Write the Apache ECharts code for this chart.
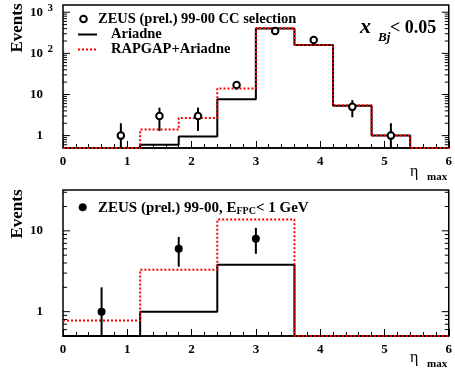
<!DOCTYPE html>
<html>
<head>
<meta charset="utf-8">
<script src="https://cdn.jsdelivr.net/npm/echarts@6/dist/echarts.min.js"></script>
<style>
  html, body { margin: 0; padding: 0; background: #fff; }
  #chart { width: 455px; height: 375px; }
</style>
</head>
<body>
<div id="chart"></div>
<script>
// eta_max distributions, x_Bj < 0.05 (upper) and with E_FPC < 1 GeV (lower)
const topEdges = [0, 0.6, 1.2, 1.8, 2.4, 3.0, 3.6, 4.2, 4.8, 5.4, 6.0];
const topAriadne = [0, 0, 0.6, 0.95, 7.7, 400, 160, 5.3, 1.0, 0];
const topRapgap = [0, 0, 1.4, 2.7, 14, 410, 160, 5.5, 1.0, 0];
const topDataX = [0.9, 1.5, 2.1, 2.7, 3.3, 3.9, 4.5, 5.1];
const topDataY = [1, 3, 3, 17, 350, 210, 5, 1];
const topErrLow = [0, 1.3, 1.3, 13, 330, 195, 2.8, 0];
const topErrHigh = [2, 4.8, 4.8, 21, 370, 225, 7.3, 2];

const botEdges = [0, 1.2, 2.4, 3.6, 4.8, 6.0];
const botAriadne = [0, 1.0, 3.8, 0, 0];
const botRapgap = [0.78, 3.3, 13.8, 0, 0];
const botDataX = [0.6, 1.8, 3.0];
const botDataY = [1, 6, 8];
const botErrLow = [0, 3.6, 5.2];
const botErrHigh = [2, 8.4, 10.9];

const xTicks = [0, 1, 2, 3, 4, 5, 6];
const topRange = [0.5, 1500];
const botRange = [0.5, 32];

const SERIF = '"Liberation Serif", "DejaVu Serif", serif';

// empty bins sit on the lower edge of the log axis
function floorTo(v, lo) { return v > lo ? v : lo; }

function stepData(edges, vals, lo) {
  return edges.map((e, i) => [e, floorTo(vals[Math.min(i, vals.length - 1)], lo)]);
}

function logTicks(range) {
  const out = [];
  const k0 = Math.floor(Math.log10(range[0]));
  const k1 = Math.ceil(Math.log10(range[1]));
  for (let k = k0; k <= k1; k++) {
    for (let m = 1; m <= 9; m++) {
      const v = m * Math.pow(10, k);
      if (v > range[0] * 1.0001 && v < range[1] * 0.9999) out.push([0, v, m === 1 ? 1 : 0]);
    }
  }
  return out;
}

function tickItem(params, api) {
  const v = api.value(1);
  const major = api.value(2);
  const L = api.coord([xTicks[0], v]);
  const R = api.coord([xTicks[xTicks.length - 1], v]);
  const len = major ? 7 : 4;
  const st = { stroke: '#000', lineWidth: 1 };
  return {
    type: 'group',
    children: [
      { type: 'line', shape: { x1: L[0], y1: L[1], x2: L[0] + len, y2: L[1] }, style: st },
      { type: 'line', shape: { x1: R[0], y1: R[1], x2: R[0] - len, y2: R[1] }, style: st }
    ]
  };
}

function errItem(lo) {
  return function (params, api) {
    const x = api.value(0);
    const a = api.coord([x, floorTo(api.value(1), lo)]);
    const b = api.coord([x, api.value(2)]);
    return {
      type: 'line',
      shape: { x1: a[0], y1: a[1], x2: b[0], y2: b[1] },
      style: { stroke: '#000', lineWidth: 2 }
    };
  };
}

function yLabel(v) {
  const l = Math.log10(v);
  const e = Math.round(l);
  if (Math.abs(l - e) > 1e-6) return '';
  if (e === 0) return '{b|1}{e| }';
  if (e === 1) return '{b|10}{e| }';
  return '{b|10}{e|' + e + '}';
}

function xAxisCfg(gridIndex) {
  return {
    type: 'value', gridIndex, min: 0, max: 6, interval: 1,
    axisLine: { show: true, lineStyle: { color: '#000', width: 1.5 } },
    axisTick: { show: true, inside: true, length: 7, lineStyle: { color: '#000', width: 1 } },
    minorTick: { show: true, splitNumber: 5, length: 4, lineStyle: { color: '#000', width: 1 } },
    splitLine: { show: false },
    minorSplitLine: { show: false },
    axisLabel: {
      margin: 7,
      color: '#000',
      fontFamily: SERIF, fontWeight: 'bold', fontSize: 13
    }
  };
}

function yAxisCfg(gridIndex, range) {
  return {
    type: 'log', logBase: 10, gridIndex, min: range[0], max: range[1],
    axisLine: { show: false },
    axisTick: { show: false },
    splitLine: { show: false },
    axisLabel: {
      margin: 10,
      showMinLabel: false, showMaxLabel: false,
      formatter: yLabel,
      rich: {
        b: { fontFamily: SERIF, fontWeight: 'bold', fontSize: 13, color: '#000', lineHeight: 20 },
        e: { fontFamily: SERIF, fontWeight: 'bold', fontSize: 11, color: '#000', width: 10, align: 'right', lineHeight: 11, verticalAlign: 'top' }
      }
    }
  };
}

const chart = echarts.init(document.getElementById('chart'), null, { renderer: 'canvas' });

function txt(x, y, text, font, extra, rotation) {
  const el = {
    type: 'text', x, y,
    style: Object.assign({ text, font, fill: '#000', textAlign: 'left', textVerticalAlign: 'middle' }, extra || {})
  };
  if (rotation) el.rotation = rotation;
  return el;
}

const option = {
  animation: false,
  backgroundColor: '#fff',
  grid: [
    { left: 63, right: 3, top: 5, height: 143, show: true, borderColor: '#000', borderWidth: 1.5, backgroundColor: 'transparent' },
    { left: 63, right: 3, top: 190, height: 146, show: true, borderColor: '#000', borderWidth: 1.5, backgroundColor: 'transparent' }
  ],
  xAxis: [xAxisCfg(0), xAxisCfg(1)],
  yAxis: [yAxisCfg(0, topRange), yAxisCfg(1, botRange)],
  series: [
    {
      name: 'Ariadne', type: 'line', xAxisIndex: 0, yAxisIndex: 0, step: 'end',
      data: stepData(topEdges, topAriadne, topRange[0]), showSymbol: false, symbol: 'none',
      lineStyle: { color: '#000', width: 2 }, z: 2
    },
    {
      name: 'RAPGAP+Ariadne', type: 'line', xAxisIndex: 0, yAxisIndex: 0, step: 'end',
      data: stepData(topEdges, topRapgap, topRange[0]), showSymbol: false, symbol: 'none',
      lineStyle: { color: '#ff0000', width: 2, type: [2, 2] }, z: 3
    },
    {
      type: 'custom', xAxisIndex: 0, yAxisIndex: 0, renderItem: errItem(topRange[0]),
      data: topDataX.map((x, i) => [x, topErrLow[i], topErrHigh[i]]), z: 4, silent: true
    },
    {
      name: 'ZEUS (prel.) 99-00 CC selection', type: 'scatter', xAxisIndex: 0, yAxisIndex: 0,
      data: topDataX.map((x, i) => [x, topDataY[i]]), symbol: 'circle', symbolSize: 6.5,
      itemStyle: { color: '#fff', borderColor: '#000', borderWidth: 2, opacity: 1 }, z: 5
    },
    {
      type: 'custom', xAxisIndex: 0, yAxisIndex: 0, renderItem: tickItem,
      data: logTicks(topRange), z: 6, silent: true
    },
    {
      name: 'Ariadne', type: 'line', xAxisIndex: 1, yAxisIndex: 1, step: 'end',
      data: stepData(botEdges, botAriadne, botRange[0]), showSymbol: false, symbol: 'none',
      lineStyle: { color: '#000', width: 2 }, z: 2
    },
    {
      name: 'RAPGAP+Ariadne', type: 'line', xAxisIndex: 1, yAxisIndex: 1, step: 'end',
      data: stepData(botEdges, botRapgap, botRange[0]), showSymbol: false, symbol: 'none',
      lineStyle: { color: '#ff0000', width: 2, type: [2, 2] }, z: 3
    },
    {
      type: 'custom', xAxisIndex: 1, yAxisIndex: 1, renderItem: errItem(botRange[0]),
      data: botDataX.map((x, i) => [x, botErrLow[i], botErrHigh[i]]), z: 4, silent: true
    },
    {
      name: 'ZEUS (prel.) 99-00, E_FPC < 1 GeV', type: 'scatter', xAxisIndex: 1, yAxisIndex: 1,
      data: botDataX.map((x, i) => [x, botDataY[i]]), symbol: 'circle', symbolSize: 8,
      itemStyle: { color: '#000', opacity: 1 }, z: 5
    },
    {
      type: 'custom', xAxisIndex: 1, yAxisIndex: 1, renderItem: tickItem,
      data: logTicks(botRange), z: 6, silent: true
    }
  ],
  graphic: [
    // axis titles
    txt(18, 28, 'Events', 'bold 17px ' + SERIF, { textAlign: 'center' }, Math.PI / 2),
    txt(18, 214, 'Events', 'bold 17px ' + SERIF, { textAlign: 'center' }, Math.PI / 2),
    txt(410, 172, 'η', '16px ' + SERIF),
    txt(427, 177, 'max', 'bold 11px ' + SERIF),
    txt(410, 358, 'η', '16px ' + SERIF),
    txt(427, 364, 'max', 'bold 11px ' + SERIF),
    // upper legend
    { type: 'circle', shape: { cx: 83.5, cy: 19, r: 3.3 }, style: { fill: '#fff', stroke: '#000', lineWidth: 2 } },
    txt(98, 19, 'ZEUS (prel.) 99-00 CC selection', 'bold 14.5px ' + SERIF),
    { type: 'line', shape: { x1: 78, y1: 34.5, x2: 97, y2: 34.5 }, style: { stroke: '#000', lineWidth: 2 } },
    txt(111, 34, 'Ariadne', 'bold 14.5px ' + SERIF),
    { type: 'line', shape: { x1: 78, y1: 49.5, x2: 97, y2: 49.5 }, style: { stroke: '#ff0000', lineWidth: 2, lineDash: [2, 2] } },
    txt(111, 49, 'RAPGAP+Ariadne', 'bold 14.5px ' + SERIF),
    // kinematic cut label
    txt(360, 27, 'x', 'italic bold 22px ' + SERIF),
    txt(378, 38, 'Bj', 'italic bold 13px ' + SERIF),
    txt(390, 28, '< 0.05', 'bold 18px ' + SERIF),
    // lower legend
    { type: 'circle', shape: { cx: 82.7, cy: 207.3, r: 3.8 }, style: { fill: '#000', stroke: '#000', lineWidth: 0.5 } },
    {
      type: 'text', x: 98, y: 208,
      style: {
        text: '{a|ZEUS (prel.) 99-00, E}{s|FPC}{a|< 1 GeV}',
        textAlign: 'left', textVerticalAlign: 'middle',
        rich: {
          a: { font: 'bold 15px ' + SERIF, fill: '#000', lineHeight: 16 },
          s: { font: 'bold 10px ' + SERIF, fill: '#000', lineHeight: 16, verticalAlign: 'bottom', padding: [6, 0, 0, 0] }
        }
      }
    }
  ]
};

chart.setOption(option);
</script>
</body>
</html>
